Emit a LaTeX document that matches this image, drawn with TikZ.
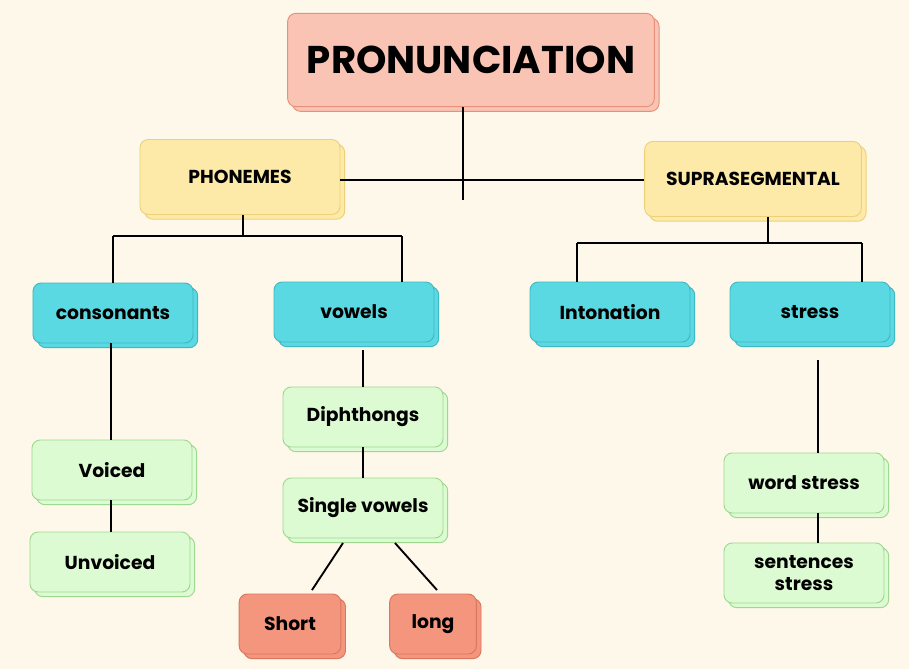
\documentclass[tikz,border=0pt]{standalone}
\usepackage{fontspec}
\setmainfont{Poppins}
\usetikzlibrary{shadows}
\definecolor{bgcream}{HTML}{FDF8EA}
\definecolor{titlefill}{HTML}{F9C4B4}
\definecolor{titleline}{HTML}{E8907A}
\definecolor{catfill}{HTML}{FDE9A8}
\definecolor{catline}{HTML}{EDD07A}
\definecolor{cyanfill}{HTML}{5AD9E2}
\definecolor{cyanline}{HTML}{3FB8C2}
\definecolor{greenfill}{HTML}{DDFBD2}
\definecolor{greenline}{HTML}{9ED78E}
\definecolor{redfill}{HTML}{F4957D}
\definecolor{redline}{HTML}{D9765E}
\tikzset{
  box/.style={rounded corners=7pt,line width=0.8pt,align=center,font=\bfseries\fontsize{16}{19}\selectfont,
    copy shadow={shadow xshift=4pt,shadow yshift=-4pt}},
  titlebox/.style={box,fill=titlefill,draw=titleline,font=\bfseries\fontsize{33}{38}\selectfont},
  catbox/.style={box,fill=catfill,draw=catline},
  cyanbox/.style={box,fill=cyanfill,draw=cyanline},
  greenbox/.style={box,fill=greenfill,draw=greenline},
  redbox/.style={box,fill=redfill,draw=redline},
  link/.style={line width=1.6pt,black}
}
\begin{document}
\begin{tikzpicture}[x=0.03cm,y=-0.03cm]
\fill[bgcream] (0,0) rectangle (909,669);
\useasboundingbox (0,0) rectangle (909,669);

\node[titlebox,minimum width=11cm,minimum height=2.8cm] (title) at (471,60) {PRONUNCIATION};
\node[catbox,minimum width=6cm,minimum height=2.25cm] (phon) at (240,177) {PHONEMES};
\node[catbox,minimum width=6.5cm,minimum height=2.25cm] (supra) at (753,179) {SUPRASEGMENTAL};

\node[cyanbox,minimum width=4.8cm,minimum height=1.8cm] (cons) at (113,313) {consonants};
\node[cyanbox,minimum width=4.8cm,minimum height=1.8cm] (vow) at (354,312) {vowels};
\node[cyanbox,minimum width=4.8cm,minimum height=1.8cm] (inton) at (610,312) {Intonation};
\node[cyanbox,minimum width=4.8cm,minimum height=1.8cm] (stress) at (810,312) {stress};

\node[greenbox,minimum width=4.8cm,minimum height=1.8cm] (diph) at (363,417) {Diphthongs};
\node[greenbox,minimum width=4.8cm,minimum height=1.8cm] (single) at (363,508) {Single vowels};
\node[greenbox,minimum width=4.8cm,minimum height=1.8cm] (voiced) at (112,470) {Voiced};
\node[greenbox,minimum width=4.8cm,minimum height=1.8cm] (unvoiced) at (110,562) {Unvoiced};
\node[greenbox,minimum width=4.8cm,minimum height=1.8cm] (word) at (804,483) {word stress};
\node[greenbox,minimum width=4.8cm,minimum height=1.8cm] (sent) at (804,573) {sentences\\stress};

\node[redbox,minimum width=3.05cm,minimum height=1.8cm] (short) at (290,624) {Short};
\node[redbox,minimum width=2.6cm,minimum height=1.8cm] (long) at (433,624) {long};

% top level
\coordinate (tdown) at (463,200);
\draw[link] (title.south -| tdown) -- (tdown);
\draw[link] (phon.east |- 0,180) -- (supra.west |- 0,180);

% phonemes branch
\coordinate (pbar) at (243,236);
\draw[link] (phon.south -| pbar) -- (pbar);
\draw[link] (113,236) -- (402,236);
\draw[link] (113,236) -- (cons.north -| 113,0);
\draw[link] (402,236) -- (vow.north -| 402,0);

% suprasegmental branch
\coordinate (sbar) at (768,243);
\draw[link] (supra.south -| sbar) -- (sbar);
\draw[link] (577,243) -- (862,243);
\draw[link] (577,243) -- (inton.north -| 577,0);
\draw[link] (862,243) -- (stress.north -| 862,0);

% lower links
\draw[link] (cons.south -| 111,0) -- (voiced.north -| 111,0);
\draw[link] (voiced.south -| 111,0) -- (unvoiced.north -| 111,0);
\draw[link] (363,350) -- (diph.north -| 363,0);
\draw[link] (diph.south -| 363,0) -- (single.north -| 363,0);
\draw[link] (343,543) -- (312,590);
\draw[link] (395,543) -- (437,590);
\draw[link] (818,360) -- (word.north -| 818,0);
\draw[link] (word.south -| 818,0) -- (sent.north -| 818,0);
\end{tikzpicture}
\end{document}
